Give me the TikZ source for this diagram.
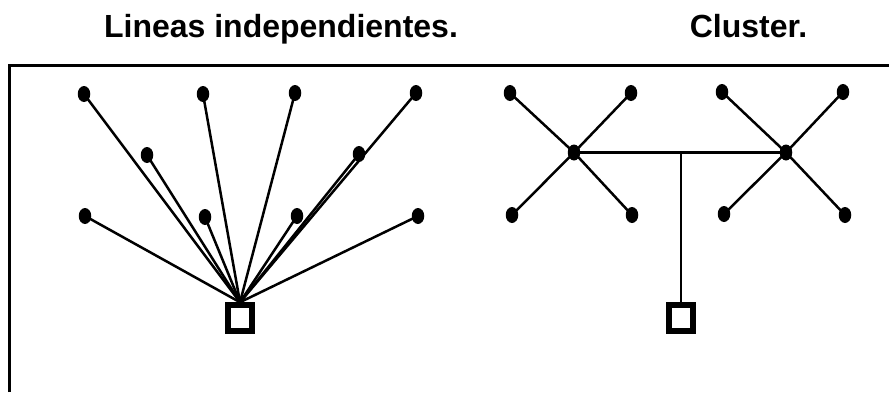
\documentclass[tikz,border=0pt]{standalone}
\usepackage{fontspec}
\setmainfont{Liberation Sans}
\usetikzlibrary{shapes.geometric}
\begin{document}
\begin{tikzpicture}[x=1pt,y=-1pt,
  dot/.style={ellipse,fill=black,draw=none,minimum width=12.5pt,minimum height=16pt,inner sep=0pt},
  link/.style={line width=2.5pt},
  term/.style={rectangle,draw=black,line width=5.5pt,minimum width=24pt,minimum height=26pt,inner sep=0pt,fill=white},
  title/.style={anchor=base,font=\bfseries\fontsize{32}{38}\selectfont}]
\useasboundingbox (0,0) rectangle (889,392);
% titles
\node[title] (t1) at (281,37) {Lineas independientes.};
\node[title] (t2) at (748.5,37) {Cluster.};
% frame
\coordinate (fa) at (9.5,392);
\coordinate (fb) at (9.5,65);
\coordinate (fc) at (889,65);
\draw[line width=3pt] (fa) -- (fb) -- (fc);
% left diagram
\node[term] (sq1) at (240,318) {};
\node[dot] (a1) at (84,94) {};
\node[dot] (a2) at (203,94) {};
\node[dot] (a3) at (295,93) {};
\node[dot] (a4) at (416,93) {};
\node[dot] (b1) at (147,155) {};
\node[dot] (b2) at (359,154) {};
\node[dot] (c1) at (85,216) {};
\node[dot] (c2) at (205,217) {};
\node[dot] (c3) at (297,216) {};
\node[dot] (c4) at (418,216) {};
\foreach \n in {a1,a2,a3,a4,b1,b2,c1,c2,c3,c4}
  \draw[link] (\n.center) -- (sq1.north);
% right diagram
\node[dot] (h1) at (574,152.5) {};
\node[dot] (h2) at (786,152.5) {};
\node[dot] (p1) at (510,93) {};
\node[dot] (p2) at (631,93) {};
\node[dot] (p3) at (722,92) {};
\node[dot] (p4) at (843,92) {};
\node[dot] (q1) at (512,215) {};
\node[dot] (q2) at (632,215) {};
\node[dot] (q3) at (724,214) {};
\node[dot] (q4) at (845,215) {};
\draw[link] (p1.center) -- (h1.center) -- (q2.center);
\draw[link] (p2.center) -- (h1.center) -- (q1.center);
\draw[link] (p3.center) -- (h2.center) -- (q4.center);
\draw[link] (p4.center) -- (h2.center) -- (q3.center);
\draw[link] (h1.center) -- (h2.center);
\node[term] (sq2) at (681,318) {};
\coordinate (j) at (681,152.5);
\draw[link] (j) -- (sq2.north);
\end{tikzpicture}
\end{document}
